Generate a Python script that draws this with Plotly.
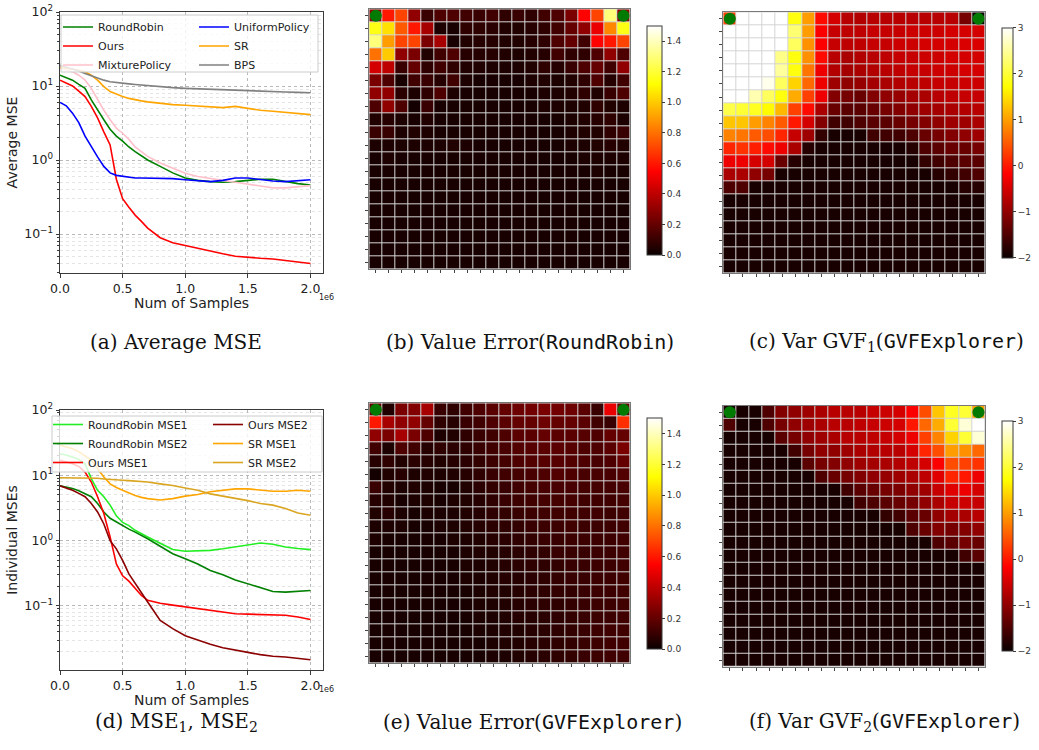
import plotly.graph_objects as go

W, H = 1039, 750
def px_x(p): return p / W
def px_y(p): return 1 - p / H

# ---------------- line data (x in units of 1e6 samples) ----------------
samples = [0, 0.05, 0.1, 0.15, 0.2, 0.25, 0.3, 0.35, 0.4, 0.45, 0.5, 0.55, 0.6, 0.65,
           0.7, 0.8, 0.9, 1.0, 1.1, 1.2, 1.3, 1.4, 1.5, 1.6, 1.7, 1.8, 1.9, 2.0]

avg_roundrobin = [14, 13, 12, 10.5, 9.3, 6.5, 4.7, 3.5, 2.6, 2.1, 1.8, 1.5, 1.3, 1.15, 1.0,
                  0.82, 0.67, 0.57, 0.53, 0.51, 0.5, 0.51, 0.53, 0.55, 0.55, 0.51, 0.48, 0.46]
avg_ours = [12, 11, 10, 8.5, 7.2, 5.3, 3.7, 2.4, 1.6, 0.55, 0.3, 0.23, 0.18, 0.148, 0.12,
            0.089, 0.076, 0.07, 0.064, 0.058, 0.054, 0.05, 0.048, 0.047, 0.046, 0.044, 0.042, 0.04]
avg_mixture = [17.3, 16.5, 15.6, 14, 12, 9.3, 6.5, 4.7, 3.5, 2.7, 2.3, 1.9, 1.5, 1.3, 1.12,
               0.91, 0.78, 0.66, 0.6, 0.57, 0.53, 0.5, 0.47, 0.44, 0.42, 0.42, 0.43, 0.45]
avg_uniform = [6.0, 5.4, 4.3, 3.2, 2.1, 1.5, 1.1, 0.82, 0.67, 0.62, 0.6, 0.58, 0.57, 0.57, 0.57,
               0.57, 0.56, 0.54, 0.52, 0.51, 0.53, 0.57, 0.57, 0.54, 0.52, 0.51, 0.52, 0.54]
avg_sr = [18, 17.5, 17, 16.3, 15.6, 14, 12, 9.8, 8.4, 7.7, 7.2, 6.8, 6.5, 6.3, 6.1,
          5.8, 5.6, 5.5, 5.35, 5.2, 5.1, 5.3, 5.0, 4.7, 4.55, 4.4, 4.25, 4.1]
avg_bps = [19, 18, 17, 16, 14.8, 13.7, 12.7, 12, 11.4, 11.1, 10.9, 10.7, 10.5, 10.3, 10.1,
           9.8, 9.5, 9.3, 9.15, 9.0, 8.85, 8.7, 8.6, 8.5, 8.4, 8.3, 8.2, 8.1]

rr_mse1 = [21.4, 20.5, 19, 17.5, 15, 8.9, 5.9, 4.7, 3.5, 2.4, 1.9, 1.7, 1.44, 1.3, 1.14,
           0.91, 0.73, 0.69, 0.7, 0.71, 0.75, 0.8, 0.87, 0.92, 0.88, 0.8, 0.76, 0.73]
rr_mse2 = [6.9, 6.6, 6.3, 5.8, 5.2, 4.7, 3.7, 2.75, 2.2, 1.93, 1.7, 1.5, 1.35, 1.2, 1.07,
           0.82, 0.63, 0.53, 0.44, 0.35, 0.3, 0.25, 0.22, 0.19, 0.167, 0.163, 0.167, 0.173]
ours_mse1 = [17, 16, 15, 13.7, 11.2, 7.9, 4.7, 2.6, 1.14, 0.44, 0.29, 0.24, 0.19, 0.145, 0.122,
             0.11, 0.103, 0.097, 0.091, 0.086, 0.08, 0.076, 0.075, 0.074, 0.073, 0.072, 0.068, 0.062]
ours_mse2 = [6.9, 6.4, 5.9, 5.3, 4.7, 3.7, 2.75, 1.8, 1.0, 0.75, 0.5, 0.31, 0.22, 0.16, 0.115,
             0.06, 0.045, 0.035, 0.03, 0.026, 0.023, 0.021, 0.0195, 0.018, 0.017, 0.0166, 0.0158, 0.015]
sr_mse1 = [29, 27, 25.6, 23, 20, 17, 12.6, 9.4, 7.4, 6.5, 5.9, 5.3, 4.9, 4.6, 4.4,
           4.2, 4.4, 4.8, 5.1, 5.6, 5.9, 6.2, 6.2, 5.9, 5.7, 5.7, 5.9, 5.7]
sr_mse2 = [9.2, 9.2, 9.2, 9.2, 9.2, 9.1, 9.0, 8.8, 8.6, 8.5, 8.4, 8.3, 8.2, 8.0, 7.9,
           7.4, 7.0, 6.4, 5.9, 5.2, 4.8, 4.5, 4.1, 3.7, 3.5, 3.1, 2.65, 2.45]

x_ticks = [0, 0.5, 1.0, 1.5, 2.0]
x_ticktext = ["0.0", "0.5", "1.0", "1.5", "2.0"]
y_ticks = [0.1, 1, 10, 100]
y_ticktext = ["10<sup>−1</sup>", "10<sup>0</sup>", "10<sup>1</sup>", "10<sup>2</sup>"]

# ---------------- heatmap data (20x20 grid, row 0 = top) ----------------
err_roundrobin = [
    [0.30, 0.60, 0.70, 0.30, 0.10, 0.15, 0.15, 0.12, 0.10, 0.12, 0.08, 0.10, 0.08, 0.12, 0.15, 0.25, 0.55, 0.70, 1.30, 0.30],
    [1.15, 1.05, 0.75, 0.60, 0.35, 0.04, 0.03, 0.08, 0.08, 0.07, 0.05, 0.05, 0.06, 0.08, 0.12, 0.20, 0.30, 0.50, 0.85, 1.15],
    [1.30, 0.90, 0.70, 0.70, 0.25, 0.35, 0.03, 0.05, 0.06, 0.06, 0.05, 0.05, 0.06, 0.08, 0.15, 0.20, 0.12, 0.55, 0.60, 0.70],
    [0.80, 1.00, 0.30, 0.25, 0.05, 0.12, 0.15, 0.06, 0.06, 0.06, 0.05, 0.04, 0.05, 0.06, 0.12, 0.08, 0.08, 0.15, 0.30, 0.15],
    [0.45, 0.40, 0.10, 0.20, 0.08, 0.12, 0.08, 0.05, 0.05, 0.04, 0.04, 0.04, 0.05, 0.08, 0.06, 0.10, 0.15, 0.20, 0.12, 0.30],
    [0.25, 0.15, 0.03, 0.12, 0.10, 0.06, 0.12, 0.04, 0.03, 0.03, 0.03, 0.03, 0.04, 0.05, 0.04, 0.05, 0.08, 0.15, 0.06, 0.12],
    [0.30, 0.30, 0.07, 0.04, 0.08, 0.15, 0.04, 0.03, 0.03, 0.03, 0.03, 0.03, 0.03, 0.04, 0.04, 0.05, 0.08, 0.05, 0.10, 0.15],
    [0.15, 0.30, 0.15, 0.02, 0.10, 0.03, 0.03, 0.03, 0.03, 0.03, 0.03, 0.03, 0.03, 0.04, 0.04, 0.04, 0.05, 0.08, 0.05, 0.04],
    [0.05, 0.06, 0.04, 0.03, 0.05, 0.03, 0.03, 0.03, 0.03, 0.03, 0.03, 0.03, 0.03, 0.03, 0.03, 0.04, 0.05, 0.06, 0.08, 0.04],
    [0.10, 0.10, 0.04, 0.05, 0.04, 0.03, 0.03, 0.03, 0.03, 0.03, 0.03, 0.03, 0.03, 0.03, 0.03, 0.04, 0.05, 0.05, 0.08, 0.10],
    [0.04, 0.04, 0.04, 0.04, 0.04, 0.04, 0.05, 0.04, 0.03, 0.03, 0.03, 0.03, 0.03, 0.03, 0.03, 0.04, 0.04, 0.05, 0.06, 0.05],
    [0.03, 0.04, 0.03, 0.03, 0.03, 0.03, 0.03, 0.03, 0.03, 0.03, 0.03, 0.03, 0.03, 0.03, 0.03, 0.03, 0.04, 0.04, 0.04, 0.04],
    [0.03, 0.03, 0.03, 0.03, 0.03, 0.03, 0.03, 0.03, 0.03, 0.03, 0.03, 0.03, 0.03, 0.03, 0.03, 0.03, 0.03, 0.04, 0.03, 0.03],
    [0.03, 0.03, 0.03, 0.03, 0.03, 0.03, 0.03, 0.03, 0.03, 0.03, 0.03, 0.03, 0.03, 0.03, 0.03, 0.03, 0.03, 0.03, 0.03, 0.03],
    [0.03, 0.03, 0.03, 0.03, 0.03, 0.03, 0.03, 0.03, 0.03, 0.03, 0.03, 0.03, 0.03, 0.03, 0.03, 0.03, 0.03, 0.03, 0.03, 0.03],
    [0.03, 0.03, 0.03, 0.03, 0.03, 0.03, 0.03, 0.03, 0.03, 0.03, 0.03, 0.03, 0.03, 0.03, 0.03, 0.03, 0.03, 0.03, 0.03, 0.03],
    [0.03, 0.03, 0.03, 0.03, 0.03, 0.03, 0.03, 0.03, 0.03, 0.03, 0.03, 0.03, 0.03, 0.03, 0.03, 0.03, 0.03, 0.03, 0.03, 0.03],
    [0.03, 0.03, 0.03, 0.03, 0.03, 0.03, 0.03, 0.03, 0.03, 0.03, 0.03, 0.03, 0.03, 0.03, 0.03, 0.03, 0.03, 0.03, 0.03, 0.03],
    [0.03, 0.03, 0.03, 0.03, 0.03, 0.03, 0.03, 0.03, 0.03, 0.03, 0.03, 0.03, 0.03, 0.03, 0.03, 0.03, 0.03, 0.03, 0.03, 0.03],
    [0.03, 0.03, 0.03, 0.03, 0.03, 0.03, 0.03, 0.03, 0.03, 0.03, 0.03, 0.03, 0.03, 0.03, 0.03, 0.03, 0.03, 0.03, 0.03, 0.03],
]

var_gvf1 = [
    [0.3, 3.0, 3.0, 3.0, 3.0, 1.8, 1.0, -0.1, -0.5, -0.7, -0.75, -0.7, -0.7, -0.7, -0.7, -0.7, -0.7, -0.7, -1.2, -2.0],
    [3.0, 3.0, 3.0, 3.0, 3.0, 2.3, 1.0, -0.2, -0.6, -0.65, -0.65, -0.6, -0.6, -0.6, -0.55, -0.55, -0.55, -0.5, -0.5, -0.5],
    [3.0, 3.0, 3.0, 3.0, 3.0, 2.2, 0.9, -0.2, -0.6, -0.65, -0.65, -0.6, -0.6, -0.55, -0.55, -0.5, -0.5, -0.5, -0.45, -0.45],
    [3.0, 3.0, 3.0, 3.0, 2.4, 1.8, 0.9, -0.1, -0.7, -0.8, -0.75, -0.7, -0.65, -0.6, -0.6, -0.55, -0.55, -0.5, -0.5, -0.5],
    [3.0, 3.0, 3.0, 3.0, 2.5, 1.8, 0.7, -0.3, -0.75, -0.85, -0.8, -0.75, -0.7, -0.65, -0.6, -0.6, -0.55, -0.55, -0.5, -0.5],
    [3.0, 3.0, 3.0, 2.9, 2.2, 1.4, 0.6, -0.3, -0.9, -1.0, -0.95, -0.85, -0.8, -0.75, -0.7, -0.65, -0.6, -0.6, -0.55, -0.55],
    [3.0, 3.0, 2.6, 2.2, 1.8, 1.1, 0.3, -0.3, -1.1, -1.2, -1.3, -1.1, -1.0, -0.95, -0.85, -0.8, -0.7, -0.65, -0.6, -0.6],
    [2.1, 2.0, 1.9, 1.7, 1.2, 0.3, -0.1, -0.8, -1.3, -1.4, -1.4, -1.3, -1.2, -1.1, -1.0, -0.9, -0.85, -0.8, -0.75, -0.7],
    [1.3, 1.3, 1.0, 0.8, 0.5, 0.0, -0.5, -1.1, -1.6, -1.6, -1.5, -1.4, -1.4, -1.3, -1.2, -1.1, -1.0, -0.9, -0.9, -0.8],
    [0.8, 0.7, 0.5, 0.4, 0.1, -0.6, -0.9, -1.7, -1.9, -1.9, -1.9, -1.6, -1.6, -1.6, -1.5, -1.3, -1.2, -1.1, -1.0, -0.9],
    [0.1, 0.2, 0.05, -0.1, -0.3, -0.8, -1.8, -1.9, -1.9, -1.9, -1.9, -1.9, -1.9, -1.9, -1.8, -1.5, -1.4, -1.3, -1.3, -1.2],
    [-0.3, -0.3, -0.5, -0.5, -1.3, -1.8, -1.9, -1.9, -1.9, -1.9, -1.9, -1.9, -1.9, -1.9, -1.9, -1.7, -1.6, -1.5, -1.4, -1.4],
    [-0.8, -0.8, -1.0, -1.2, -1.9, -1.9, -1.9, -1.9, -1.9, -1.9, -1.9, -1.9, -1.9, -1.9, -1.9, -1.9, -1.8, -1.7, -1.6, -1.5],
    [-1.5, -1.5, -1.9, -1.9, -1.9, -1.9, -1.9, -1.9, -1.9, -1.9, -1.9, -1.9, -1.9, -1.9, -1.9, -1.9, -1.9, -1.9, -1.8, -1.8],
    [-1.9, -1.9, -1.9, -1.9, -1.9, -1.9, -1.9, -1.9, -1.9, -1.9, -1.9, -1.9, -1.9, -1.9, -1.9, -1.9, -1.9, -1.9, -1.9, -1.9],
    [-1.9, -1.9, -1.9, -1.9, -1.9, -1.9, -1.9, -1.9, -1.9, -1.9, -1.9, -1.9, -1.9, -1.9, -1.9, -1.9, -1.9, -1.9, -1.9, -1.9],
    [-1.9, -1.9, -1.9, -1.9, -1.9, -1.9, -1.9, -1.9, -1.9, -1.9, -1.9, -1.9, -1.9, -1.9, -1.9, -1.9, -1.9, -1.9, -1.9, -1.9],
    [-1.9, -1.9, -1.9, -1.9, -1.9, -1.9, -1.9, -1.9, -1.9, -1.9, -1.9, -1.9, -1.9, -1.9, -1.9, -1.9, -1.9, -1.9, -1.9, -1.9],
    [-1.9, -1.9, -1.9, -1.9, -1.9, -1.9, -1.9, -1.9, -1.9, -1.9, -1.9, -1.9, -1.9, -1.9, -1.9, -1.9, -1.9, -1.9, -1.9, -1.9],
    [-1.9, -1.9, -1.9, -1.9, -1.9, -1.9, -1.9, -1.9, -1.9, -1.9, -1.9, -1.9, -1.9, -1.9, -1.9, -1.9, -1.9, -1.9, -1.9, -1.9],
]

err_gvfexplorer = [
    [0.20, 0.05, 0.25, 0.27, 0.35, 0.10, 0.08, 0.12, 0.15, 0.18, 0.20, 0.22, 0.23, 0.25, 0.23, 0.22, 0.18, 0.10, 0.50, 0.20],
    [0.60, 0.35, 0.30, 0.30, 0.20, 0.08, 0.06, 0.10, 0.12, 0.15, 0.18, 0.20, 0.20, 0.22, 0.20, 0.20, 0.18, 0.12, 0.10, 0.65],
    [0.30, 0.25, 0.35, 0.25, 0.15, 0.04, 0.05, 0.08, 0.10, 0.12, 0.15, 0.18, 0.18, 0.20, 0.18, 0.18, 0.17, 0.15, 0.20, 0.20],
    [0.12, 0.04, 0.15, 0.12, 0.06, 0.08, 0.07, 0.08, 0.10, 0.12, 0.14, 0.16, 0.17, 0.18, 0.18, 0.17, 0.15, 0.15, 0.18, 0.25],
    [0.06, 0.08, 0.05, 0.07, 0.06, 0.05, 0.06, 0.07, 0.09, 0.11, 0.13, 0.15, 0.16, 0.17, 0.17, 0.16, 0.15, 0.14, 0.15, 0.20],
    [0.02, 0.05, 0.06, 0.04, 0.05, 0.04, 0.05, 0.06, 0.08, 0.10, 0.12, 0.13, 0.14, 0.15, 0.16, 0.15, 0.14, 0.14, 0.14, 0.16],
    [0.10, 0.05, 0.04, 0.05, 0.04, 0.03, 0.03, 0.05, 0.07, 0.09, 0.10, 0.12, 0.13, 0.14, 0.14, 0.14, 0.13, 0.13, 0.13, 0.14],
    [0.06, 0.05, 0.03, 0.04, 0.04, 0.03, 0.04, 0.05, 0.06, 0.08, 0.10, 0.11, 0.12, 0.13, 0.13, 0.13, 0.12, 0.12, 0.12, 0.13],
    [0.05, 0.06, 0.04, 0.03, 0.04, 0.04, 0.04, 0.05, 0.06, 0.08, 0.09, 0.10, 0.11, 0.12, 0.12, 0.12, 0.12, 0.12, 0.11, 0.12],
    [0.04, 0.04, 0.04, 0.03, 0.03, 0.04, 0.04, 0.05, 0.06, 0.07, 0.08, 0.09, 0.10, 0.11, 0.11, 0.12, 0.11, 0.11, 0.11, 0.12],
    [0.04, 0.03, 0.03, 0.03, 0.03, 0.03, 0.04, 0.04, 0.05, 0.06, 0.07, 0.08, 0.09, 0.10, 0.10, 0.11, 0.11, 0.11, 0.11, 0.12],
    [0.03, 0.03, 0.03, 0.03, 0.03, 0.03, 0.03, 0.04, 0.05, 0.05, 0.06, 0.07, 0.08, 0.09, 0.10, 0.10, 0.10, 0.11, 0.11, 0.12],
    [0.03, 0.03, 0.03, 0.03, 0.03, 0.03, 0.03, 0.04, 0.04, 0.05, 0.06, 0.07, 0.08, 0.08, 0.09, 0.10, 0.10, 0.11, 0.11, 0.12],
    [0.03, 0.03, 0.03, 0.03, 0.03, 0.03, 0.03, 0.04, 0.04, 0.05, 0.06, 0.06, 0.07, 0.08, 0.09, 0.10, 0.10, 0.11, 0.11, 0.12],
    [0.03, 0.03, 0.03, 0.03, 0.03, 0.03, 0.03, 0.03, 0.04, 0.05, 0.05, 0.06, 0.07, 0.08, 0.09, 0.09, 0.10, 0.11, 0.11, 0.12],
    [0.03, 0.03, 0.03, 0.03, 0.03, 0.03, 0.03, 0.03, 0.04, 0.04, 0.05, 0.06, 0.07, 0.08, 0.08, 0.09, 0.10, 0.11, 0.11, 0.12],
    [0.03, 0.03, 0.03, 0.03, 0.03, 0.03, 0.03, 0.03, 0.04, 0.04, 0.05, 0.06, 0.06, 0.07, 0.08, 0.09, 0.10, 0.11, 0.11, 0.12],
    [0.03, 0.03, 0.03, 0.03, 0.03, 0.03, 0.03, 0.03, 0.04, 0.04, 0.05, 0.05, 0.06, 0.07, 0.08, 0.09, 0.10, 0.11, 0.12, 0.12],
    [0.03, 0.03, 0.03, 0.03, 0.03, 0.03, 0.03, 0.03, 0.03, 0.04, 0.05, 0.05, 0.06, 0.07, 0.08, 0.09, 0.10, 0.11, 0.12, 0.12],
    [0.03, 0.03, 0.03, 0.03, 0.03, 0.03, 0.03, 0.03, 0.03, 0.04, 0.04, 0.05, 0.06, 0.07, 0.08, 0.09, 0.10, 0.11, 0.12, 0.12],
]

var_gvf2 = [
    [-1.9, -1.9, -1.9, -1.5, -1.1, -1.0, -0.9, -0.8, -0.7, -0.7, -0.7, -0.6, -0.55, -0.5, -0.2, 0.4, 1.3, 1.9, 2.0, 1.0],
    [-1.5, -1.9, -1.9, -1.5, -1.2, -1.0, -0.9, -0.8, -0.7, -0.7, -0.65, -0.6, -0.55, -0.5, 0.0, 0.6, 1.1, 2.0, 2.8, 3.0],
    [-1.9, -1.9, -1.9, -1.9, -1.4, -1.2, -1.0, -0.9, -0.8, -0.7, -0.7, -0.65, -0.6, -0.5, -0.3, 0.3, 0.8, 1.4, 2.0, 2.8],
    [-1.9, -1.9, -1.9, -1.9, -1.9, -1.6, -1.2, -1.0, -1.0, -0.9, -0.8, -0.75, -0.7, -0.7, -0.5, 0.1, 0.4, 1.0, 0.9, 0.6],
    [-1.9, -1.9, -1.9, -1.9, -1.9, -1.9, -1.4, -1.2, -1.1, -1.0, -0.9, -0.85, -0.8, -0.75, -0.65, -0.5, -0.2, 0.4, 0.3, 0.2],
    [-1.9, -1.9, -1.9, -1.9, -1.9, -1.9, -1.9, -1.5, -1.3, -1.2, -1.1, -1.0, -0.95, -0.9, -0.8, -0.65, -0.4, 0.1, 0.0, -0.3],
    [-1.9, -1.9, -1.9, -1.9, -1.9, -1.9, -1.9, -1.9, -1.9, -1.6, -1.4, -1.3, -1.2, -1.15, -1.0, -0.9, -0.6, -0.4, -0.3, -0.5],
    [-1.9, -1.9, -1.9, -1.9, -1.9, -1.9, -1.9, -1.9, -1.9, -1.9, -1.6, -1.5, -1.4, -1.3, -1.2, -1.0, -0.8, -0.6, -0.55, -0.6],
    [-1.9, -1.9, -1.9, -1.9, -1.9, -1.9, -1.9, -1.9, -1.9, -1.9, -1.9, -1.9, -1.7, -1.6, -1.4, -1.3, -1.0, -0.85, -0.8, -0.7],
    [-1.9, -1.9, -1.9, -1.9, -1.9, -1.9, -1.9, -1.9, -1.9, -1.9, -1.9, -1.9, -1.9, -1.9, -1.5, -1.3, -1.1, -1.2, -1.1, -1.0],
    [-1.9, -1.9, -1.9, -1.9, -1.9, -1.9, -1.9, -1.9, -1.9, -1.9, -1.9, -1.9, -1.9, -1.9, -1.9, -1.9, -1.5, -1.4, -1.2, -1.3],
    [-1.9, -1.9, -1.9, -1.9, -1.9, -1.9, -1.9, -1.9, -1.9, -1.9, -1.9, -1.9, -1.9, -1.9, -1.9, -1.9, -1.9, -1.9, -1.6, -1.4],
    [-1.9, -1.9, -1.9, -1.9, -1.9, -1.9, -1.9, -1.9, -1.9, -1.9, -1.9, -1.9, -1.9, -1.9, -1.9, -1.9, -1.9, -1.9, -1.9, -1.9],
    [-1.9, -1.9, -1.9, -1.9, -1.9, -1.9, -1.9, -1.9, -1.9, -1.9, -1.9, -1.9, -1.9, -1.9, -1.9, -1.9, -1.9, -1.9, -1.9, -1.9],
    [-1.9, -1.9, -1.9, -1.9, -1.9, -1.9, -1.9, -1.9, -1.9, -1.9, -1.9, -1.9, -1.9, -1.9, -1.9, -1.9, -1.9, -1.9, -1.9, -1.9],
    [-1.9, -1.9, -1.9, -1.9, -1.9, -1.9, -1.9, -1.9, -1.9, -1.9, -1.9, -1.9, -1.9, -1.9, -1.9, -1.9, -1.9, -1.9, -1.9, -1.9],
    [-1.9, -1.9, -1.9, -1.9, -1.9, -1.9, -1.9, -1.9, -1.9, -1.9, -1.9, -1.9, -1.9, -1.9, -1.9, -1.9, -1.9, -1.9, -1.9, -1.9],
    [-1.9, -1.9, -1.9, -1.9, -1.9, -1.9, -1.9, -1.9, -1.9, -1.9, -1.9, -1.9, -1.9, -1.9, -1.9, -1.9, -1.9, -1.9, -1.9, -1.9],
    [-1.9, -1.9, -1.9, -1.9, -1.9, -1.9, -1.9, -1.9, -1.9, -1.9, -1.9, -1.9, -1.9, -1.9, -1.9, -1.9, -1.9, -1.9, -1.9, -1.9],
    [-1.9, -1.9, -1.9, -1.9, -1.9, -1.9, -1.9, -1.9, -1.9, -1.9, -1.9, -1.9, -1.9, -1.9, -1.9, -1.9, -1.9, -1.9, -1.9, -1.9],
]

goal_cols = [0, 19]
goal_rows = [0, 0]
grid_idx = list(range(20))
err_ticks = [0.0, 0.2, 0.4, 0.6, 0.8, 1.0, 1.2, 1.4]
err_ticktext = ["0.0", "0.2", "0.4", "0.6", "0.8", "1.0", "1.2", "1.4"]
var_ticks = [-2, -1, 0, 1, 2, 3]
var_ticktext = ["−2", "−1", "0", "1", "2", "3"]

# ---------------- styling ----------------
HOT = [[0, "rgb(11,0,0)"], [0.365, "rgb(255,0,0)"], [0.746, "rgb(255,255,0)"], [1, "rgb(255,255,255)"]]
FONT = "DejaVu Sans"
AX = "#3a3a3a"

fig = go.Figure()

def add_line(xa, ya, name, y, color, legend):
    fig.add_trace(go.Scatter(x=samples, y=y, mode="lines", name=name,
                             line=dict(color=color, width=1.6),
                             xaxis=xa, yaxis=ya, legend=legend))

add_line("x", "y", "RoundRobin", avg_roundrobin, "#008000", "legend")
add_line("x", "y", "Ours", avg_ours, "#ff0000", "legend")
add_line("x", "y", "MixturePolicy", avg_mixture, "#ffc0cb", "legend")
add_line("x", "y", "UniformPolicy", avg_uniform, "#0000ff", "legend2")
add_line("x", "y", "SR", avg_sr, "#ffa500", "legend2")
add_line("x", "y", "BPS", avg_bps, "#808080", "legend2")

add_line("x4", "y4", "RoundRobin MSE1", rr_mse1, "#22ee22", "legend3")
add_line("x4", "y4", "RoundRobin MSE2", rr_mse2, "#008000", "legend3")
add_line("x4", "y4", "Ours MSE1", ours_mse1, "#ff0000", "legend3")
add_line("x4", "y4", "Ours MSE2", ours_mse2, "#8b0000", "legend4")
add_line("x4", "y4", "SR MSE1", sr_mse1, "#ffa500", "legend4")
add_line("x4", "y4", "SR MSE2", sr_mse2, "#daa520", "legend4")

def add_heat(xa, ya, z, zmin, zmax, ticks, ticktext, cb_x, cb_y0, cb_y1, thick):
    fig.add_trace(go.Heatmap(
        z=z, x=grid_idx, y=grid_idx, xaxis=xa, yaxis=ya, colorscale=HOT,
        zmin=zmin, zmax=zmax, xgap=1, ygap=1, hoverinfo="skip",
        colorbar=dict(x=px_x(cb_x), xanchor="left", xref="paper",
                      y=px_y((cb_y0 + cb_y1) / 2), yanchor="middle", yref="paper",
                      len=cb_y1 - cb_y0, lenmode="pixels", thickness=thick,
                      xpad=0, ypad=0, outlinewidth=1, outlinecolor=AX,
                      tickmode="array", tickvals=ticks, ticktext=ticktext,
                      ticks="outside", ticklen=3,
                      tickcolor=AX, tickfont=dict(family=FONT, size=9, color="#333"))))
    fig.add_trace(go.Scatter(x=goal_cols, y=goal_rows, mode="markers", xaxis=xa, yaxis=ya,
                             marker=dict(color="#007a00", size=12), showlegend=False,
                             hoverinfo="skip"))

add_heat("x2", "y2", err_roundrobin, 0, 1.5, err_ticks, err_ticktext, 646.7, 26, 255, 15)
add_heat("x3", "y3", var_gvf1, -2, 3, var_ticks, var_ticktext, 1001.7, 27.7, 257.7, 11)
add_heat("x5", "y5", err_gvfexplorer, 0, 1.5, err_ticks, err_ticktext, 646.7, 418.3, 649, 15)
add_heat("x6", "y6", var_gvf2, -2, 3, var_ticks, var_ticktext, 1001.7, 421, 651, 11)

def line_axes(xa, ya, x0, x1, y0, y1, yrange, ytitle):
    common = dict(showline=True, mirror=True, linecolor=AX, linewidth=1, ticks="outside",
                  ticklen=3.5, tickcolor=AX, tickfont=dict(family=FONT, size=12.5, color="#222"),
                  zeroline=False, gridcolor="#b8b8b8", griddash="dot", gridwidth=0.8,
                  automargin=False)
    fig.layout[xa] = dict(common, domain=[px_x(x0), px_x(x1)], range=[0, 2.1],
                          tickvals=x_ticks, ticktext=x_ticktext, showgrid=True,
                          anchor=ya.replace("axis", ""),
                          title=dict(text="Num of Samples", font=dict(family=FONT, size=14, color="#222"),
                                     standoff=0))
    minor_vals = [m * 10 ** k for k in range(-3, 2) for m in range(2, 10)]
    fig.layout[ya] = dict(common, domain=[px_y(y1), px_y(y0)], type="log", range=yrange,
                          tickvals=y_ticks, ticktext=y_ticktext, showgrid=True,
                          anchor=xa.replace("axis", ""),
                          minor=dict(tickvals=minor_vals, ticks="outside", ticklen=2,
                                     tickcolor=AX, showgrid=True, gridcolor="#e4e4e4",
                                     gridwidth=0.8),
                          title=dict(text=ytitle, font=dict(family=FONT, size=14, color="#222"),
                                     standoff=3))

line_axes("xaxis", "yaxis", 60, 323, 12, 273, [-1.527, 2], "Average MSE")
line_axes("xaxis4", "yaxis4", 60, 323, 410, 670, [-1.98, 2], "Individual MSEs")

def heat_axes(xa, ya, x0, x1, y0, y1):
    common = dict(showline=True, mirror=True, linecolor="#777", linewidth=1, ticks="outside",
                  ticklen=3, tickcolor="#444", tickvals=grid_idx, showticklabels=False,
                  showgrid=False, zeroline=False, automargin=False)
    fig.layout[xa] = dict(common, domain=[px_x(x0), px_x(x1)], range=[-0.5, 19.5],
                          anchor=ya.replace("axis", ""))
    fig.layout[ya] = dict(common, domain=[px_y(y1), px_y(y0)], range=[19.5, -0.5],
                          anchor=xa.replace("axis", ""))
    fig.add_shape(type="rect", xref=xa.replace("axis", "") + " domain",
                  yref=ya.replace("axis", "") + " domain", x0=0, x1=1, y0=0, y1=1,
                  fillcolor="#d4d4d4", line_width=0, layer="below")

heat_axes("xaxis2", "yaxis2", 369.3, 630, 9.3, 269)
heat_axes("xaxis3", "yaxis3", 723.3, 985, 12.3, 273)
heat_axes("xaxis5", "yaxis5", 369.3, 630, 403.3, 663)
heat_axes("xaxis6", "yaxis6", 723.3, 985, 405.7, 666.7)

# legend frames
for (x0, y0, x1, y1) in [(61, 15, 318, 72), (52, 416, 322, 472)]:
    fig.add_shape(type="rect", xref="paper", yref="paper",
                  x0=px_x(x0), x1=px_x(x1), y0=px_y(y1), y1=px_y(y0),
                  fillcolor="rgba(255,255,255,0.8)", line=dict(color="#cccccc", width=1),
                  layer="above")

leg_common = dict(bgcolor="rgba(0,0,0,0)", borderwidth=0, xanchor="left", yanchor="top",
                  font=dict(family=FONT, size=11, color="#222"), tracegroupgap=0,
                  itemwidth=30)
fig.update_layout(
    legend=dict(leg_common, x=px_x(58), y=px_y(12.5)),
    legend2=dict(leg_common, x=px_x(194), y=px_y(12.5)),
    legend3=dict(leg_common, x=px_x(48), y=px_y(410)),
    legend4=dict(leg_common, x=px_x(208), y=px_y(410)),
)

# offset text "1e6"
for ytop in [297, 696]:
    fig.add_annotation(text="1e6", xref="paper", yref="paper", x=px_x(317), y=px_y(ytop),
                       showarrow=False, font=dict(family=FONT, size=8, color="#222"))

MONO = "DejaVu Sans Mono"
captions = [
    (176, 342, "(a) Average MSE"),
    (530, 342, "(b) Value Error(<span style='font-family:%s'>RoundRobin</span>)" % MONO),
    (886, 342, "(c) Var GVF<sub>1</sub>(<span style='font-family:%s'>GVFExplorer</span>)" % MONO),
    (176, 722, "(d) MSE<sub>1</sub>, MSE<sub>2</sub>"),
    (532, 722, "(e) Value Error(<span style='font-family:%s'>GVFExplorer</span>)" % MONO),
    (884, 722, "(f) Var GVF<sub>2</sub>(<span style='font-family:%s'>GVFExplorer</span>)" % MONO),
]
for cx, cy, txt in captions:
    fig.add_annotation(text=txt, xref="paper", yref="paper", x=px_x(cx), y=px_y(cy),
                       showarrow=False, xanchor="center", yanchor="middle",
                       font=dict(family="DejaVu Serif", size=20, color="#111"))

fig.update_layout(width=W, height=H, margin=dict(l=0, r=0, t=0, b=0),
                  paper_bgcolor="white", plot_bgcolor="white", showlegend=True)

fig.write_html("out.html", config={"displayModeBar": False},
               post_script="document.body.style.margin='0px';")
